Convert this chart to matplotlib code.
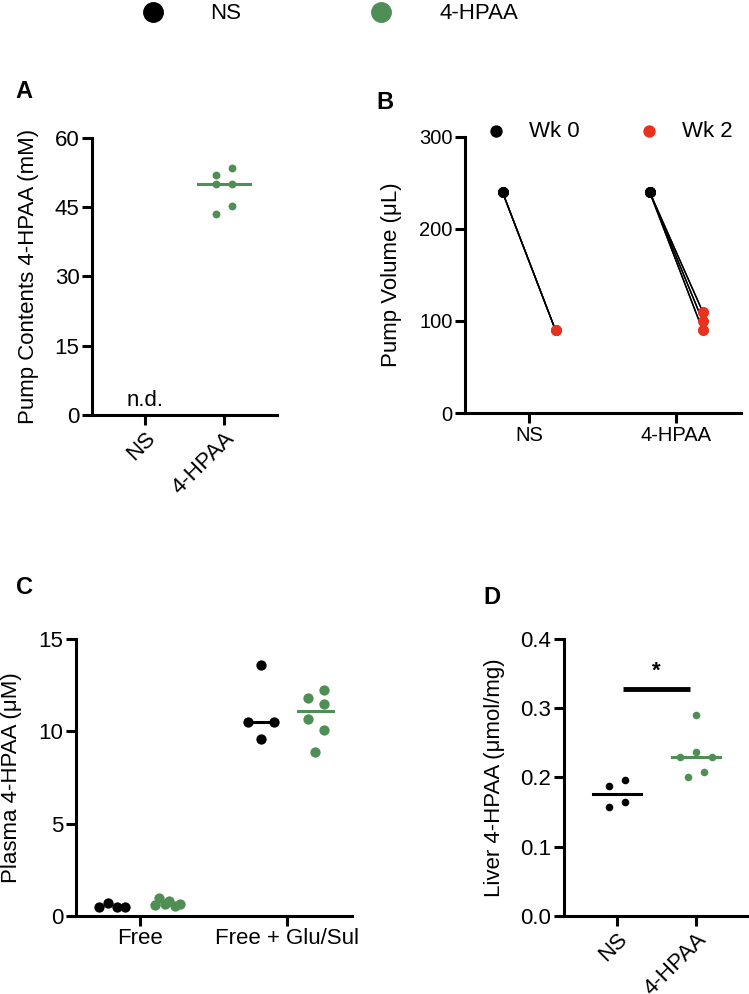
import matplotlib
matplotlib.use("Agg")
import matplotlib.pyplot as plt
from matplotlib.lines import Line2D
import numpy as np

plt.rcParams["font.family"] = ["Liberation Sans", "DejaVu Sans"]

BLACK = "#000000"
GREEN = "#4f8f56"
RED = "#e8321e"

# Panel A: pump contents (mM), NS not detected
pump_groups = ["NS", "4-HPAA"]
pump_hpaa_x = [-0.1, 0.1, -0.1, 0.1, 0.1, -0.1]
pump_hpaa = [52.0, 53.5, 50.0, 50.0, 45.2, 43.5]

# Panel B: pump volume (uL), week 0 vs week 2
vol_groups = ["NS", "4-HPAA"]
vol_ns_wk0 = [240, 240, 240, 240]
vol_ns_wk2 = [90, 90, 90, 90]
vol_hpaa_wk0 = [240, 240, 240, 240, 240, 240]
vol_hpaa_wk2 = [110, 110, 100, 100, 90, 90]

# Panel C: plasma 4-HPAA (uM)
plasma_groups = ["Free", "Free + Glu/Sul"]
plasma_free_ns_x = [-0.28, -0.22, -0.16, -0.10]
plasma_free_ns = [0.5, 0.7, 0.5, 0.5]
plasma_free_hpaa_x = [0.10, 0.13, 0.17, 0.20, 0.24, 0.27]
plasma_free_hpaa = [0.6, 1.0, 0.65, 0.8, 0.55, 0.65]
plasma_tot_ns_x = [-0.18, -0.27, -0.09, -0.18]
plasma_tot_ns = [13.6, 10.5, 10.5, 9.6]
plasma_tot_hpaa_x = [0.14, 0.25, 0.25, 0.14, 0.25, 0.19]
plasma_tot_hpaa = [11.8, 12.25, 11.5, 10.65, 10.05, 8.9]

# Panel D: liver 4-HPAA (umol/mg)
liver_groups = ["NS", "4-HPAA"]
liver_ns_x = [-0.1, 0.1, -0.1, 0.1]
liver_ns = [0.188, 0.197, 0.157, 0.165]
liver_hpaa_x = [0.0, -0.2, 0.0, 0.2, -0.1, 0.1]
liver_hpaa = [0.29, 0.23, 0.237, 0.23, 0.20, 0.208]

TICK_FS = 16
LABEL_FS = 16


def style_axes(ax, tick_fs=TICK_FS):
    for side in ["top", "right"]:
        ax.spines[side].set_visible(False)
    for side in ["left", "bottom"]:
        ax.spines[side].set_linewidth(2.2)
    ax.tick_params(width=2.2, length=7, labelsize=tick_fs, pad=2)


def median_line(ax, x, values, half, color):
    m = np.median(values)
    ax.plot([x - half, x + half], [m, m], color=color, lw=2.2, zorder=2)


fig = plt.figure(figsize=(7.49, 9.94), dpi=100)

# ---- A ----
axA = fig.add_axes([0.1228, 0.5825, 0.247, 0.2787])
style_axes(axA)
axA.scatter(1 + np.array(pump_hpaa_x), pump_hpaa, s=32, color=GREEN, zorder=3, linewidths=0)
median_line(axA, 1, pump_hpaa, 0.33, GREEN)
axA.text(0, 0.8, "n.d.", ha="center", va="bottom", fontsize=TICK_FS)
axA.set_xlim(-0.67, 1.67)
axA.set_ylim(0, 60)
axA.set_yticks([0, 15, 30, 45, 60])
axA.set_xticks([0, 1])
axA.set_xticklabels(pump_groups, rotation=45, ha="right", rotation_mode="anchor")
axA.set_ylabel("Pump Contents 4-HPAA (mM)", fontsize=LABEL_FS, labelpad=11)
fig.text(0.021, 0.908, "A", fontsize=17, fontweight="bold", va="center")

# ---- B ----
axB = fig.add_axes([0.6208, 0.5845, 0.3685, 0.2777])
style_axes(axB, tick_fs=14.5)
for gx, wk0, wk2 in [(0, vol_ns_wk0, vol_ns_wk2), (1, vol_hpaa_wk0, vol_hpaa_wk2)]:
    for a, b in zip(wk0, wk2):
        axB.plot([gx - 0.18, gx + 0.18], [a, b], color=BLACK, lw=1.0, zorder=2)
axB.scatter([-0.18] * len(vol_ns_wk0) + [0.82] * len(vol_hpaa_wk0),
            vol_ns_wk0 + vol_hpaa_wk0, s=60, color=BLACK, zorder=3, linewidths=0,
            label="Wk 0")
axB.scatter([0.18] * len(vol_ns_wk2) + [1.18] * len(vol_hpaa_wk2),
            vol_ns_wk2 + vol_hpaa_wk2, s=60, color=RED, zorder=3, linewidths=0,
            label="Wk 2")
axB.set_xlim(-0.435, 1.44)
axB.set_ylim(0, 300)
axB.set_yticks([0, 100, 200, 300])
axB.set_xticks([0, 1])
axB.set_xticklabels(vol_groups)
axB.set_ylabel("Pump Volume (μL)", fontsize=LABEL_FS, labelpad=12)
axB.legend(loc="center", bbox_to_anchor=(0.5, 1.02), ncol=2, frameon=False,
           fontsize=16, handletextpad=0.5, columnspacing=2.1, markerscale=1.15,
           handlelength=2.0, borderpad=0, borderaxespad=0)
fig.text(0.503, 0.897, "B", fontsize=17, fontweight="bold", va="center")

# ---- C ----
axC = fig.add_axes([0.1015, 0.0785, 0.3685, 0.2787])
style_axes(axC)
axC.scatter(plasma_free_ns_x, plasma_free_ns, s=55, color=BLACK, zorder=3, linewidths=0)
axC.scatter(plasma_free_hpaa_x, plasma_free_hpaa, s=55, color=GREEN, zorder=3, linewidths=0)
axC.scatter(1 + np.array(plasma_tot_ns_x), plasma_tot_ns, s=55, color=BLACK, zorder=3, linewidths=0)
axC.scatter(1 + np.array(plasma_tot_hpaa_x), plasma_tot_hpaa, s=55, color=GREEN, zorder=3, linewidths=0)
median_line(axC, 0.82, plasma_tot_ns, 0.09, BLACK)
median_line(axC, 1.19, plasma_tot_hpaa, 0.12, GREEN)
axC.set_xlim(-0.435, 1.44)
axC.set_ylim(0, 15)
axC.set_yticks([0, 5, 10, 15])
axC.set_xticks([0, 1])
axC.set_xticklabels(plasma_groups)
axC.set_ylabel("Plasma 4-HPAA (μM)", fontsize=LABEL_FS, labelpad=12)
fig.text(0.021, 0.409, "C", fontsize=17, fontweight="bold", va="center")

# ---- D ----
axD = fig.add_axes([0.753, 0.0785, 0.247, 0.2787])
style_axes(axD)
axD.scatter(liver_ns_x, liver_ns, s=30, color=BLACK, zorder=3, linewidths=0)
axD.scatter(1 + np.array(liver_hpaa_x), liver_hpaa, s=30, color=GREEN, zorder=3, linewidths=0)
median_line(axD, 0, liver_ns, 0.3, BLACK)
median_line(axD, 1, liver_hpaa, 0.3, GREEN)
axD.plot([0.08, 0.92], [0.328, 0.328], color=BLACK, lw=3.5, solid_capstyle="butt")
axD.text(0.5, 0.338, "*", ha="center", va="bottom", fontsize=16, fontweight="bold")
axD.set_xlim(-0.667, 1.67)
axD.set_ylim(0, 0.4)
axD.set_yticks([0, 0.1, 0.2, 0.3, 0.4])
axD.set_yticklabels(["0.0", "0.1", "0.2", "0.3", "0.4"])
axD.set_xticks([0, 1])
axD.set_xticklabels(liver_groups, rotation=45, ha="right", rotation_mode="anchor")
axD.set_ylabel("Liver 4-HPAA (μmol/mg)", fontsize=LABEL_FS, labelpad=11)
fig.text(0.646, 0.399, "D", fontsize=17, fontweight="bold", va="center")

# ---- shared legend ----
handles = [Line2D([], [], ls="none", marker="o", ms=14, color=BLACK, label="NS"),
           Line2D([], [], ls="none", marker="o", ms=14, color=GREEN, label="4-HPAA")]
fig.legend(handles=handles, loc="center", bbox_to_anchor=(0.433, 0.986), ncol=2,
           frameon=False, fontsize=16, handletextpad=1.6, columnspacing=5.3,
           handlelength=2.0, borderpad=0, borderaxespad=0)

fig.savefig("out.png", dpi=100)
